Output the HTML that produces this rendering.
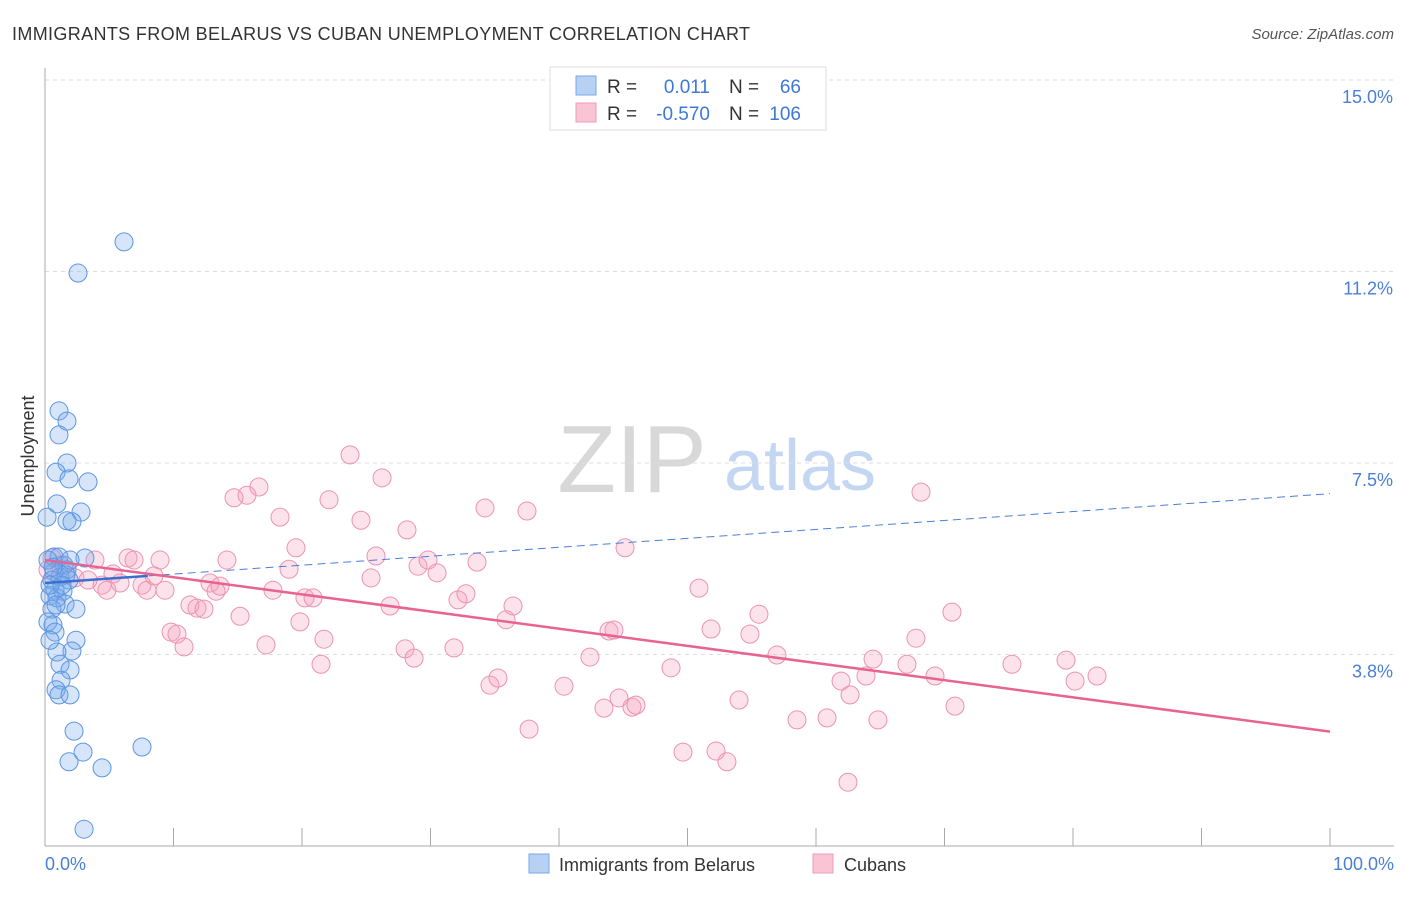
<!DOCTYPE html>
<html><head><meta charset="utf-8"><style>
body{margin:0;background:#fff;font-family:"Liberation Sans",sans-serif}
svg text{font-family:"Liberation Sans",sans-serif}
</style></head><body>
<svg id="chart" width="1406" height="892" xmlns="http://www.w3.org/2000/svg">
<text x="12" y="40" font-size="18" fill="#333" textLength="738" lengthAdjust="spacing">IMMIGRANTS FROM BELARUS VS CUBAN UNEMPLOYMENT CORRELATION CHART</text>
<text x="1394" y="39" font-size="15" fill="#555" font-style="italic" text-anchor="end">Source: ZipAtlas.com</text>
<g>
<text x="632" y="492" font-size="96" fill="#d8d8d8" font-family="Liberation Serif" text-anchor="middle">ZIP</text>
<text x="800" y="490" font-size="72" fill="#c3d6f2" text-anchor="middle">atlas</text>
</g>
<g id="grid"></g>
<g id="axes"></g>
<g id="marks"></g>
<text transform="translate(34,456) rotate(-90)" font-size="18" fill="#333" text-anchor="middle">Unemployment</text>
<text x="45" y="870" font-size="18" fill="#4a7fd6">0.0%</text>
<text x="1394" y="870" font-size="18" fill="#4a7fd6" text-anchor="end">100.0%</text>
<g>
<rect x="550" y="67" width="276" height="63" fill="#fff" stroke="#ddd"/>
<rect x="576" y="76" width="20" height="19" fill="#b7d1f5" stroke="#7aa8e8"/>
<rect x="576" y="103" width="20" height="19" fill="#f9c5d5" stroke="#ef9bb5"/>
<text x="607" y="93" font-size="19" fill="#333">R =</text>
<text x="710" y="93" font-size="19" fill="#3d78d8" text-anchor="end">0.011</text>
<text x="729" y="93" font-size="19" fill="#333">N =</text>
<text x="801" y="93" font-size="19" fill="#3d78d8" text-anchor="end">66</text>
<text x="607" y="120" font-size="19" fill="#333">R =</text>
<text x="710" y="120" font-size="19" fill="#3d78d8" text-anchor="end">-0.570</text>
<text x="729" y="120" font-size="19" fill="#333">N =</text>
<text x="801" y="120" font-size="19" fill="#3d78d8" text-anchor="end">106</text>
</g>
<g>
<rect x="529" y="854" width="20" height="19" fill="#b7d1f5" stroke="#7aa8e8"/>
<text x="559" y="871" font-size="18" fill="#333">Immigrants from Belarus</text>
<rect x="813" y="854" width="20" height="19" fill="#f9c5d5" stroke="#ef9bb5"/>
<text x="844" y="871" font-size="18" fill="#333">Cubans</text>
</g>
</svg>
<script>
const yTicks=[15.0,11.25,7.5,3.75];
const yTickLabels=["15.0%","11.2%","7.5%","3.8%"];
const xTicks=[0,10,20,30,40,50,60,70,80,90,100];
const blueX=[6.15,2.57,1.09,1.71,1.09,1.71,0.86,1.87,3.35,0.93,2.80,0.16,1.71,2.10,0.70,1.09,3.11,1.48,1.71,0.70,0.54,1.17,1.87,0.78,1.40,0.39,0.93,1.56,2.41,0.54,0.23,0.62,0.78,2.41,2.10,0.93,1.17,1.95,1.25,0.86,1.09,1.95,2.26,2.96,1.87,4.44,7.55,3.04,0.39,1.63,0.23,0.62,1.32,0.86,1.95,0.39];
const blueY=[11.83,11.22,8.52,8.32,8.05,7.50,7.32,7.19,7.13,6.70,6.54,6.44,6.37,6.35,5.66,5.66,5.64,5.50,5.41,5.37,5.21,5.27,5.21,5.01,4.99,4.90,4.86,4.74,4.64,4.64,4.39,4.33,4.19,4.03,3.82,3.80,3.56,3.45,3.25,3.06,2.96,2.96,2.25,1.84,1.65,1.53,1.94,0.33,5.11,5.31,5.60,5.46,5.11,4.72,5.60,4.03];
const pinkX=[0.54,1.17,0.23,2.33,3.35,3.89,4.44,4.82,5.29,5.84,6.46,6.93,7.55,7.94,8.48,8.95,9.34,9.81,10.27,10.82,11.28,11.83,12.37,12.84,13.31,13.62,14.16,14.71,15.18,15.72,16.65,17.20,17.74,18.29,18.99,19.53,19.84,20.23,20.86,21.48,21.71,22.10,23.74,24.59,25.37,25.76,26.23,26.85,28.02,28.17,28.72,29.03,29.81,30.51,31.83,32.14,32.76,33.62,34.24,34.63,35.25,35.88,36.42,37.51,37.67,40.39,42.41,43.50,43.89,44.28,44.67,45.14,45.68,45.99,48.72,49.65,50.89,51.83,52.22,53.07,54.01,54.86,55.56,56.96,58.52,60.86,61.95,62.49,62.65,63.89,64.44,64.82,67.08,67.78,68.17,69.26,70.58,70.82,75.25,79.46,80.16,81.87];
const pinkY=[5.64,5.50,5.41,5.25,5.21,5.60,5.11,5.01,5.33,5.15,5.64,5.60,5.11,5.01,5.29,5.60,5.01,4.19,4.15,3.90,4.72,4.66,4.64,5.15,4.99,5.09,5.60,6.82,4.50,6.87,7.03,3.94,5.01,6.44,5.42,5.84,4.39,4.86,4.86,3.56,4.05,6.78,7.66,6.38,5.25,5.68,7.21,4.70,3.86,6.19,3.68,5.48,5.60,5.35,3.88,4.82,4.94,5.56,6.62,3.15,3.29,4.43,4.70,6.56,2.29,3.13,3.70,2.70,4.21,4.23,2.90,5.84,2.72,2.76,3.49,1.84,5.05,4.25,1.86,1.65,2.86,4.15,4.54,3.74,2.47,2.51,3.23,1.25,2.96,3.33,3.66,2.47,3.56,4.07,6.93,3.33,4.58,2.74,3.56,3.64,3.23,3.33];
const blueTrend=[5.15,6.9];
const pinkTrend=[5.6,2.24];

const NS="http://www.w3.org/2000/svg";
const X0=45,X1=1330,Y15=80,YPER=51.07;
function xs(v){return X0+v*(X1-X0)/100;}
function ys(v){return Y15+(15-v)*YPER;}
function mk(tag,attrs,parent){const e=document.createElementNS(NS,tag);for(const k in attrs)e.setAttribute(k,attrs[k]);parent.appendChild(e);return e;}
const grid=document.getElementById('grid'),axes=document.getElementById('axes'),marks=document.getElementById('marks');
yTicks.forEach((t,i)=>{
  const l=mk('line',{x1:X0,x2:1394,y1:ys(t),y2:ys(t),stroke:'#ddd','stroke-dasharray':'4,4'},grid);
  
  
  const tx=mk('text',{x:1393,y:ys(t)+23,'font-size':18,fill:'#4a7fd6','text-anchor':'end'},grid);
  tx.textContent=yTickLabels[i];
  
  
});
const ya=mk('line',{x1:X0,x2:X0,y1:68,y2:846,stroke:'#aaa'},axes);


const xa=mk('line',{x1:X0,x2:1394,y1:846,y2:846,stroke:'#aaa'},axes);


xTicks.forEach(t=>{
  const l=mk('line',{x1:xs(t),x2:xs(t),y1:828,y2:846,stroke:'#aaa'},axes);
  
  
});
pinkX.forEach((v,i)=>{
  const c=mk('circle',{cx:xs(v),cy:ys(pinkY[i]),r:9,fill:'rgba(244,160,190,0.3)',stroke:'#eb93b2','stroke-width':1},marks);
  
  
});
blueX.forEach((v,i)=>{
  const c=mk('circle',{cx:xs(v),cy:ys(blueY[i]),r:9,fill:'rgba(120,168,235,0.3)',stroke:'#5d95e2','stroke-width':1},marks);
  
  
});
const bd=mk('line',{x1:xs(0),y1:ys(blueTrend[0]),x2:xs(100),y2:ys(blueTrend[1]),stroke:'#4a7fd6','stroke-width':1,'stroke-dasharray':'8,5'},marks);


const bs=mk('line',{x1:xs(0),y1:ys(blueTrend[0]),x2:xs(8),y2:ys(blueTrend[0]+(blueTrend[1]-blueTrend[0])*0.08),stroke:'#3a6fd0','stroke-width':2.5},marks);


const pt=mk('line',{x1:xs(0),y1:ys(pinkTrend[0]),x2:xs(100),y2:ys(pinkTrend[1]),stroke:'#e8638f','stroke-width':2.5},marks);


</script>
</body></html>
